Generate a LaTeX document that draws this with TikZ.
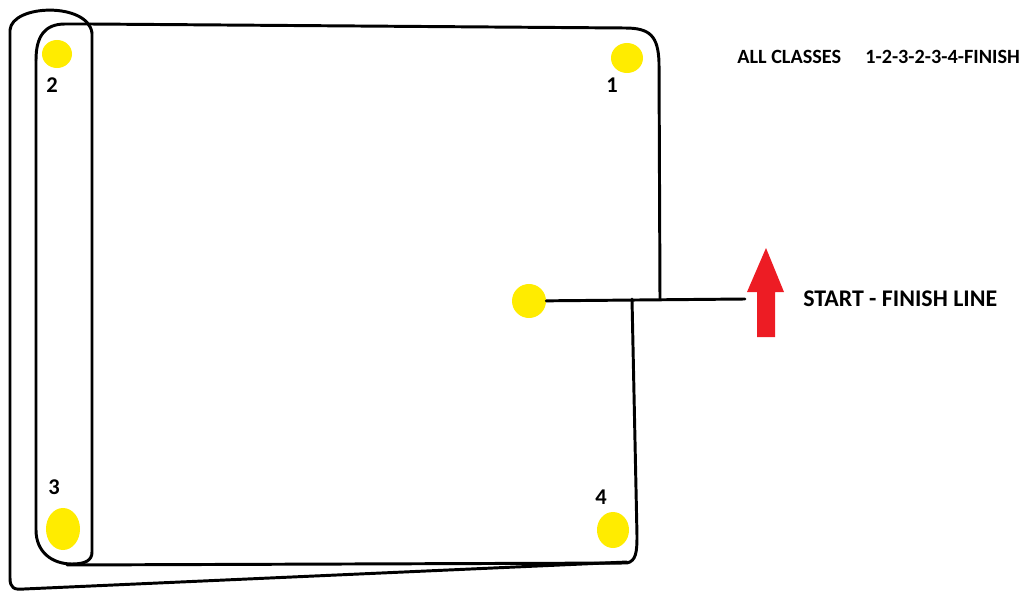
\documentclass[tikz,border=0pt]{standalone}
\usepackage{fontspec}
\setmainfont{Carlito}
\usetikzlibrary{shapes.geometric}
\definecolor{conecol}{RGB}{255,236,0}
\definecolor{arrowred}{RGB}{237,28,36}

\begin{document}
\begin{tikzpicture}[x=0.025cm, y=-0.025cm,
          track/.style={line width=2.1pt, line cap=round, line join=round},
          cone/.style={ellipse, fill=conecol, draw=none, inner sep=0pt},
          num/.style={font=\fontsize{16}{19}\selectfont\bfseries, inner sep=0pt}]
          \useasboundingbox (0,0) rectangle (1027,591);

          % cones
          \node[cone, minimum width=0.75cm, minimum height=0.7cm] (c2) at (57,54) {};
          \node[cone, minimum width=0.8cm, minimum height=0.75cm] (c1) at (627,58) {};
          \node[cone, minimum width=0.85cm, minimum height=0.85cm] (c0) at (529,301) {};
          \node[cone, minimum width=0.85cm, minimum height=1.05cm] (c3) at (63,529) {};
          \node[cone, minimum width=0.8cm, minimum height=0.9cm] (c4) at (613,530) {};

          \node[num] (n2) at (52,85) {2};
          \node[num] (n1) at (612,85) {1};
          \node[num] (n3) at (54,487) {3};
          \node[num] (n4) at (601,497) {4};

          % start - finish line
          \coordinate (sl) at (745,299);
          \coordinate (up) at (660,299);
          \coordinate (dn) at (632,299);
          \draw[track] (c0) -- (sl);

          % course
          \draw[track] (up) -- (659,62) .. controls (658,36) and (650,28) .. (625,28) -- (90,24);
          \draw[track] (36,60) .. controls (36,36) and (45,24) .. (65,24) -- (90,24);
          \draw[track] (36,60) -- (36,530) .. controls (36,552) and (52,564) .. (72,564)
                       .. controls (86,564) and (92,560) .. (92,552) -- (92,33);
          \draw[track] (92,33) .. controls (88,2) and (12,4) .. (10,30) -- (10,578)
                       .. controls (10,588) and (14,590) .. (24,589) -- (627,562);
          \draw[track] (67,565) -- (627,563) .. controls (636,561) and (637,552) .. (637,536)
                       -- (dn);

          % arrow
          \fill[arrowred] (766,248) -- (784,292) -- (775,292) -- (775,337)
                          -- (757,337) -- (757,292) -- (747,292) -- cycle;

          \node[anchor=west, inner sep=0pt, font=\fontsize{17}{20}\selectfont\bfseries] (finish) at (803,299) {START - FINISH LINE};
          \node[anchor=west, inner sep=0pt, font=\fontsize{14.4}{17}\selectfont\bfseries] (classes) at (737,57) {ALL CLASSES};
          \node[anchor=west, inner sep=0pt, font=\fontsize{14.4}{17}\selectfont\bfseries] (order) at (865,57) {1-2-3-2-3-4-FINISH};
        \end{tikzpicture}
\end{document}
